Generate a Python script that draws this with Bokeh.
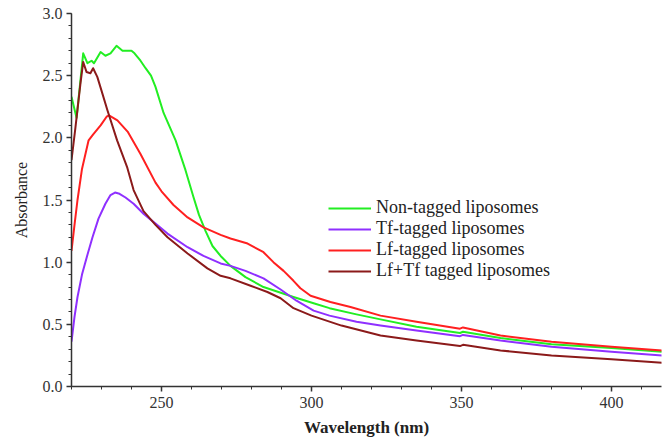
from bokeh.plotting import figure
from bokeh.models import Range1d, SingleIntervalTicker, PrintfTickFormatter, Legend, LegendItem
from bokeh.embed import file_html
from bokeh.resources import INLINE

# ---- data ----
wl_non = [220, 221.7, 223.9, 225.3, 226.7, 227.5, 229.7, 231.3, 233, 235, 237, 240, 241, 243, 244.7,
          246.5, 248, 250.7, 254.7, 258, 260.7, 262.5, 264.7, 267, 269.7, 273, 278, 284, 289, 294,
          300.7, 306, 315, 323, 335, 349.5, 350.5, 363, 380, 400, 417]
abs_non = [2.33, 2.16, 2.68, 2.60, 2.62, 2.60, 2.69, 2.66, 2.68, 2.74, 2.70, 2.70, 2.68, 2.62, 2.56,
           2.50, 2.41, 2.20, 1.98, 1.74, 1.52, 1.38, 1.25, 1.13, 1.05, 0.97, 0.88, 0.80, 0.76, 0.72,
           0.67, 0.63, 0.58, 0.54, 0.48, 0.43, 0.44, 0.39, 0.34, 0.31, 0.28]

wl_tf = [220, 221, 222, 223.5, 225.2, 227, 229, 231.3, 233, 234.5, 236, 238, 240.7, 244, 248, 252,
         258.7, 264, 269.7, 273, 278, 284, 289.7, 295, 300.7, 306, 315, 323, 335, 349.5, 350.5,
         363, 380, 400, 417]
abs_tf = [0.36, 0.56, 0.72, 0.90, 1.05, 1.20, 1.35, 1.47, 1.54, 1.56, 1.55, 1.52, 1.47, 1.39, 1.31,
          1.23, 1.12, 1.05, 0.99, 0.97, 0.93, 0.87, 0.78, 0.69, 0.61, 0.57, 0.52, 0.49, 0.45, 0.405,
          0.415, 0.37, 0.32, 0.28, 0.25]

wl_lf = [220, 221, 222, 223.5, 225.7, 227.3, 229.7, 231.7, 232.5, 235.3, 238.7, 243, 248, 250, 254,
         258.7, 264, 269.7, 273, 278.7, 284, 287.3, 290.7, 294, 296.3, 299.7, 306.3, 313, 323, 335,
         349.5, 350.5, 363, 380, 400, 417]
abs_lf = [1.09, 1.30, 1.50, 1.75, 1.98, 2.03, 2.10, 2.17, 2.18, 2.14, 2.05, 1.87, 1.64, 1.57, 1.46,
          1.36, 1.28, 1.22, 1.19, 1.15, 1.08, 1.00, 0.93, 0.85, 0.79, 0.73, 0.68, 0.64, 0.57, 0.52,
          0.465, 0.475, 0.41, 0.36, 0.32, 0.29]

wl_lftf = [220, 221.3, 223, 223.9, 225, 226.3, 227.2, 228.6, 230, 232, 235.2, 238.6, 240.7, 244, 248,
           252, 258.7, 265.3, 269.7, 273, 279.7, 285.3, 289.7, 294, 300, 310, 323, 335, 349.5, 350.5,
           363, 380, 400, 417]
abs_lftf = [1.82, 2.08, 2.44, 2.61, 2.53, 2.52, 2.56, 2.49, 2.38, 2.22, 1.98, 1.76, 1.58, 1.41, 1.30,
            1.20, 1.07, 0.95, 0.89, 0.87, 0.81, 0.76, 0.71, 0.63, 0.57, 0.49, 0.41, 0.37, 0.325, 0.335,
            0.29, 0.25, 0.22, 0.19]

series_names = ["Non-tagged liposomes", "Tf-tagged liposomes", "Lf-tagged liposomes", "Lf+Tf tagged liposomes"]
series_colors = ["#22ee22", "#8f30ff", "#ff2020", "#8b1a1a"]

p = figure(width=662, height=441, output_backend="svg", toolbar_location=None,
           x_range=Range1d(220, 416.67), y_range=Range1d(0, 3.0),
           min_border_left=71, min_border_right=1, min_border_top=13, min_border_bottom=55)
p.outline_line_color = None
p.xgrid.visible = False
p.ygrid.visible = False
p.background_fill_color = "white"
p.border_fill_color = "white"

items = []
for wl, ab, name, col in zip([wl_non, wl_tf, wl_lf, wl_lftf], [abs_non, abs_tf, abs_lf, abs_lftf],
                             series_names, series_colors):
    r = p.line(wl, ab, line_color=col, line_width=2, line_join="round")
    items.append(LegendItem(label=name, renderers=[r]))

# axes
p.xaxis.ticker = SingleIntervalTicker(interval=50, num_minor_ticks=5)
p.yaxis.ticker = SingleIntervalTicker(interval=0.5, num_minor_ticks=5)
p.xaxis.formatter = PrintfTickFormatter(format="%d")
p.yaxis.formatter = PrintfTickFormatter(format="%.1f")
for ax in (p.xaxis, p.yaxis):
    ax.axis_line_color = "#333333"
    ax.axis_line_width = 1.5
    ax.major_tick_line_color = "#333333"
    ax.minor_tick_line_color = "#333333"
    ax.major_tick_line_width = 1.5
    ax.minor_tick_line_width = 1
    ax.major_tick_out = 5
    ax.major_tick_in = 0
    ax.minor_tick_out = 3
    ax.minor_tick_in = 0
    ax.major_label_text_font = "Liberation Serif"
    ax.major_label_text_font_size = "16px"
    ax.major_label_text_color = "#333333"
    ax.axis_label_text_font = "Liberation Serif"
    ax.axis_label_text_color = "#222222"

p.xaxis.axis_label = "Wavelength (nm)"
p.xaxis.axis_label_text_font_style = "bold"
p.xaxis.axis_label_text_font_size = "17px"
p.xaxis.major_label_standoff = 5
p.xaxis.axis_label_standoff = 7

p.yaxis.axis_label = "Absorbance"
p.yaxis.axis_label_text_font_style = "normal"
p.yaxis.axis_label_text_font_size = "16px"
p.yaxis.major_label_standoff = 4
p.yaxis.axis_label_standoff = 10

legend = Legend(items=items, location=(257, 105), orientation="vertical")
legend.border_line_color = None
legend.background_fill_alpha = 0
legend.padding = 0
legend.margin = 0
legend.spacing = 0
legend.glyph_width = 43
legend.glyph_height = 20
legend.label_height = 20
legend.label_standoff = 5
legend.label_text_font = "Liberation Serif"
legend.label_text_font_size = "18px"
legend.label_text_color = "#222222"
p.add_layout(legend, "center")

open("out.html", "w").write(file_html(p, INLINE))
